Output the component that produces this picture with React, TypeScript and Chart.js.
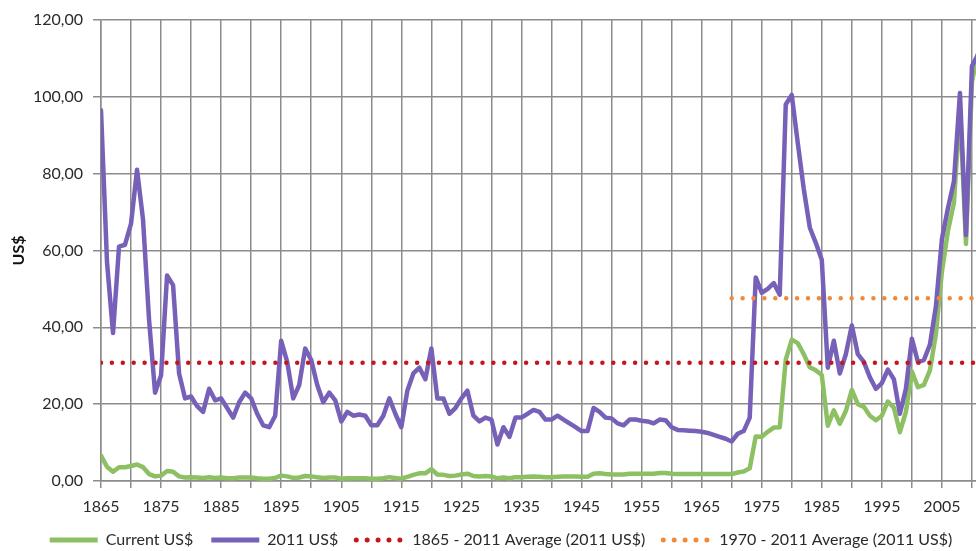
import React, { useEffect, useRef } from 'react';
import { Chart, registerables } from 'chart.js';

Chart.register(...registerables);

const START_YEAR = 1865;
const END_YEAR = 2011;
const YEARS: number[] = Array.from({ length: END_YEAR - START_YEAR + 1 }, (_, i) => START_YEAR + i);

// Current US$ per barrel, 1865..2011
const CURRENT_USD: number[] = [
  6.6, 3.7, 2.4, 3.6, 3.6,
  3.9, 4.3, 3.6, 1.8, 1.2, 1.4, 2.6, 2.4, 1.2, 0.9,
  1.0, 0.9, 0.8, 1.0, 0.8, 0.9, 0.7, 0.7, 0.9, 0.9,
  0.9, 0.7, 0.6, 0.6, 0.8, 1.4, 1.2, 0.8, 0.9, 1.3,
  1.2, 1.0, 0.8, 0.9, 0.9, 0.6, 0.7, 0.7, 0.7, 0.7,
  0.6, 0.6, 0.7, 1.0, 0.8, 0.6, 1.1, 1.6, 2.0, 2.0,
  3.1, 1.7, 1.6, 1.3, 1.4, 1.7, 1.9, 1.3, 1.2, 1.3,
  1.2, 0.7, 0.9, 0.7, 1.0, 1.0, 1.1, 1.2, 1.1, 1.0,
  1.0, 1.1, 1.2, 1.2, 1.2, 1.1, 1.1, 1.9, 2.0, 1.8,
  1.7, 1.7, 1.7, 1.9, 1.9, 1.9, 1.9, 1.9, 2.1, 2.1,
  1.9, 1.8, 1.8, 1.8, 1.8, 1.8, 1.8, 1.8, 1.8, 1.8,
  1.8, 2.2, 2.5, 3.3, 11.6, 11.5, 12.8, 13.9, 14.0, 31.6,
  36.8, 35.9, 33.0, 29.6, 28.8, 27.6, 14.4, 18.4, 14.9, 18.2,
  23.7, 20.0, 19.3, 17.0, 15.8, 17.0, 20.7, 19.1, 12.7, 18.0,
  28.5, 24.4, 25.0, 28.8, 38.3, 54.5, 65.1, 72.4, 97.3, 61.7,
  104, 111.3,
];

// 2011 US$ per barrel, 1865..2011
const USD_2011: number[] = [
  96.5, 57, 38.5, 61, 61.5,
  67, 81, 68, 42, 23, 27.5, 53.5, 51, 28, 21.5,
  22, 19.5, 18, 24, 21, 21.5, 19, 16.5, 20.5, 23,
  21.5, 17.5, 14.5, 14, 17, 36.5, 31, 21.5, 25, 34.5,
  31.5, 25, 20.5, 23, 21, 15.5, 18, 17, 17.3, 17,
  14.5, 14.5, 17, 21.5, 17.5, 14, 23.5, 28, 29.5, 26.5,
  34.5, 21.5, 21.5, 17.5, 19, 21.5, 23.5, 17, 15.5, 16.5,
  16, 9.5, 14, 11.5, 16.5, 16.5, 17.5, 18.5, 18, 16,
  16, 17, 16, 15, 14, 13, 13, 19, 18, 16.5,
  16.3, 15, 14.5, 16, 16, 15.7, 15.5, 15, 16, 15.8,
  14, 13.3, 13.2, 13.1, 13, 12.8, 12.5, 12, 11.5, 11,
  10.3, 12.3, 13, 16.5, 53, 49, 50, 51.5, 48.5, 98,
  100.5, 88, 76, 66, 62, 57.5, 29.5, 36.5, 28, 33,
  40.5, 33, 31, 27, 24, 25.5, 29, 26.5, 17.5, 24,
  37, 31, 31.5, 35.5, 45.5, 63, 71, 78, 101, 64,
  108, 111,
];

const AVG_1865_2011 = 30.8;
const AVG_1970_2011 = 47.6;

const GRID_YEARS: number[] = [
  1865, 1870, 1875, 1880, 1885, 1890, 1895, 1900, 1905, 1910, 1915, 1920, 1925, 1930, 1935, 1940,
  1945, 1950, 1955, 1960, 1965, 1970, 1975, 1980, 1985, 1990, 1995, 2000, 2005, 2010, 2015,
];
const X_LABEL_YEARS: number[] = [
  1865, 1875, 1885, 1895, 1905, 1915, 1925, 1935, 1945, 1955, 1965, 1975, 1985, 1995, 2005,
];
const Y_TICKS: number[] = [0, 20, 40, 60, 80, 100, 120];

const GREEN = '#8DC063';
const PURPLE = '#7760B8';
const RED = '#C8141E';
const ORANGE = '#F08A3A';
const GRID = '#8C8C8C';
const TEXT = '#2A2A2A';
const FONT = 'Lato, "Open Sans", sans-serif';

export default function App() {
  const ref = useRef<HTMLCanvasElement | null>(null);

  useEffect(() => {
    if (!ref.current) return;
    const toPts = (vals: number[]) => YEARS.map((yr, i) => ({ x: yr, y: vals[i] }));
    const chart = new Chart(ref.current, {
      type: 'line',
      data: {
        datasets: [
          {
            label: 'Current US$',
            data: toPts(CURRENT_USD),
            borderColor: GREEN,
            backgroundColor: GREEN,
            borderWidth: 4.5,
            borderCapStyle: 'round',
            order: 3,
          },
          {
            label: '2011 US$',
            data: toPts(USD_2011),
            borderColor: PURPLE,
            backgroundColor: PURPLE,
            borderWidth: 4.5,
            borderCapStyle: 'round',
            order: 2,
          },
          {
            label: '1865 - 2011 Average (2011 US$)',
            data: [
              { x: 1865, y: AVG_1865_2011 },
              { x: 2011, y: AVG_1865_2011 },
            ],
            borderColor: RED,
            backgroundColor: RED,
            borderWidth: 4.5,
            borderDash: [0, 10.9],
            borderCapStyle: 'round',
            order: 1,
          },
          {
            label: '1970 - 2011 Average (2011 US$)',
            data: [
              { x: 1970, y: AVG_1970_2011 },
              { x: 2011, y: AVG_1970_2011 },
            ],
            borderColor: ORANGE,
            backgroundColor: ORANGE,
            borderWidth: 4.5,
            borderDash: [0, 10.9],
            borderCapStyle: 'round',
            order: 0,
          },
        ],
      } as any,
      options: {
        responsive: false,
        animation: false,
        devicePixelRatio: 1,
        layout: { padding: { top: 20, left: 0, right: 0, bottom: 0 } },
        elements: {
          point: { radius: 0, hoverRadius: 0 },
          line: { tension: 0, borderJoinStyle: 'round' },
        },
        plugins: {
          tooltip: { enabled: false },
          legend: {
            position: 'bottom',
            labels: {
              usePointStyle: true,
              pointStyle: 'line',
              pointStyleWidth: 48,
              padding: 18,
              color: TEXT,
              font: { family: FONT, size: 16 },
              sort: (a: any, b: any) => a.datasetIndex - b.datasetIndex,
              generateLabels: (c: any) => {
                const items = (Chart.defaults.plugins.legend.labels as any).generateLabels(c);
                return items.map((it: any) => {
                  const ds = c.data.datasets[it.datasetIndex];
                  return {
                    ...it,
                    strokeStyle: ds.borderColor,
                    fillStyle: ds.borderColor,
                    lineWidth: 5,
                    lineDash: ds.borderDash || [],
                    lineCap: ds.borderDash ? 'round' : 'butt',
                    pointStyle: 'line',
                  };
                });
              },
            },
          },
        },
        scales: {
          x: {
            type: 'linear',
            min: 1865,
            max: 2015,
            afterBuildTicks: (s: any) => {
              s.ticks = GRID_YEARS.map((v) => ({ value: v }));
            },
            afterFit: (s: any) => {
              s.height = 33;
              s.paddingRight = 0;
              s.paddingLeft = 0;
            },
            ticks: {
              autoSkip: false,
              maxRotation: 0,
              minRotation: 0,
              padding: 9,
              color: TEXT,
              font: { family: FONT, size: 16 },
              callback: (v: any) => (X_LABEL_YEARS.includes(Number(v)) ? String(v) : ''),
            },
            grid: { color: GRID, lineWidth: 1.5, tickLength: 7, drawTicks: true },
            border: { color: GRID, width: 1.5 },
          },
          y: {
            min: 0,
            max: 120,
            afterBuildTicks: (s: any) => {
              s.ticks = Y_TICKS.map((v) => ({ value: v }));
            },
            afterFit: (s: any) => {
              s.width = 101;
            },
            ticks: {
              padding: 10,
              color: TEXT,
              font: { family: FONT, size: 16 },
              callback: (v: any) => Number(v).toFixed(2).replace('.', ','),
            },
            grid: { color: GRID, lineWidth: 1.5, tickLength: 8, drawTicks: true },
            border: { color: GRID, width: 1.5 },
            title: {
              display: true,
              text: 'US$',
              color: '#111',
              font: { family: FONT, size: 16, weight: 'bold' },
              padding: { top: 9, bottom: 0 },
            },
          },
        },
      } as any,
    });
    return () => chart.destroy();
  }, []);

  return (
    <div
      style={{
        position: 'absolute',
        left: 0,
        top: 0,
        width: 976,
        height: 551,
        overflow: 'hidden',
        background: '#fff',
      }}
    >
      <canvas ref={ref} width={1002} height={558} style={{ display: 'block' }} />
    </div>
  );
}
